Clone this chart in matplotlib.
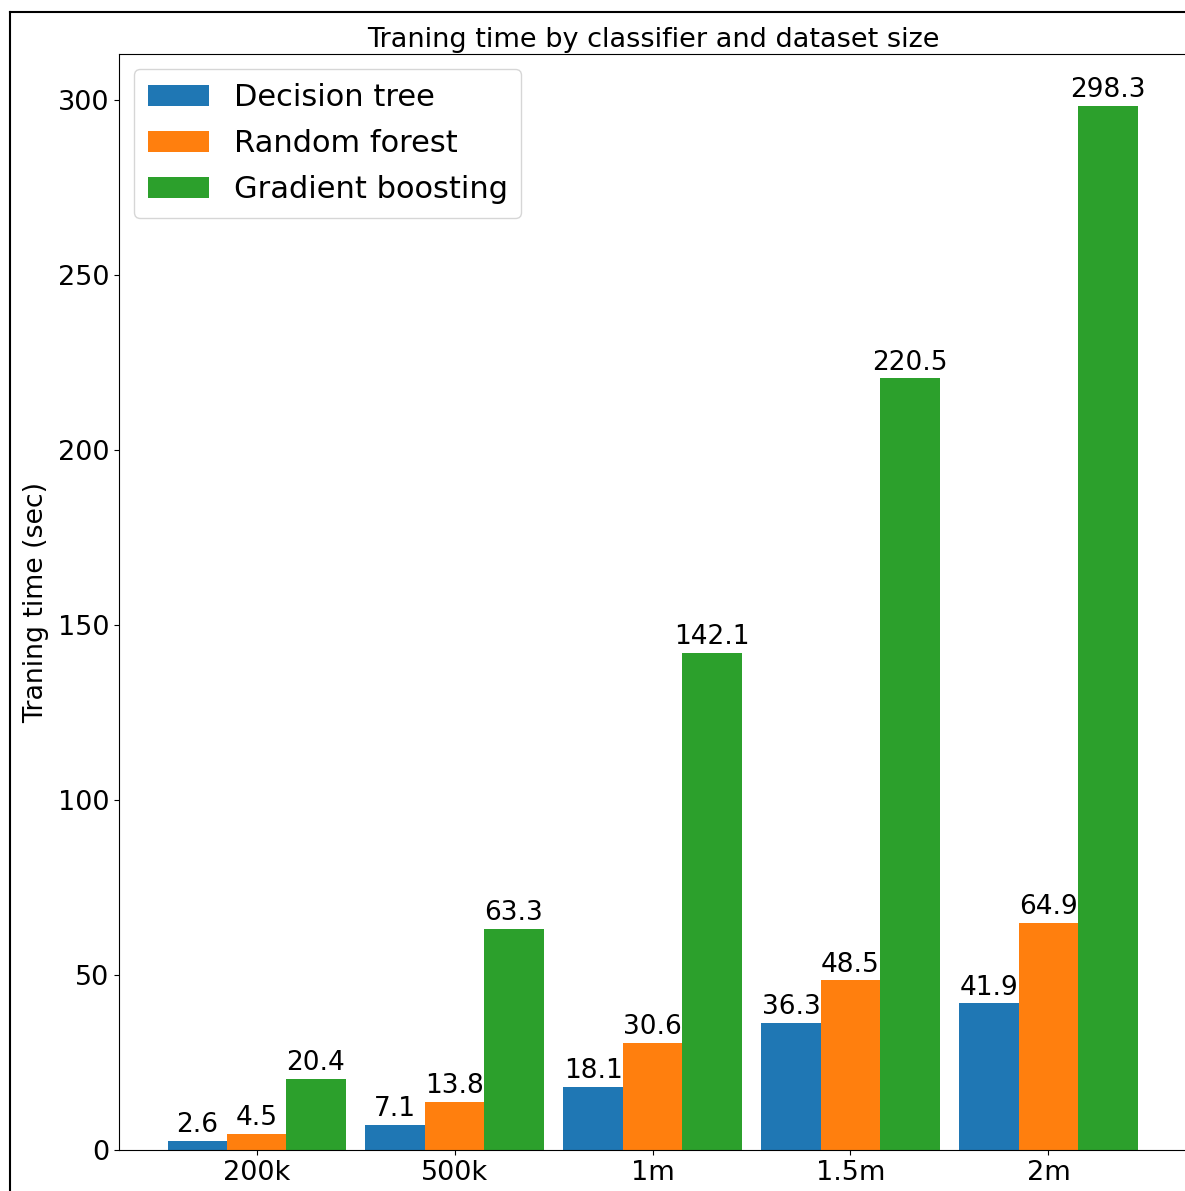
import numpy as np
import matplotlib
matplotlib.use('Agg')
import matplotlib.pyplot as plt
from matplotlib.lines import Line2D

sizes = ['200k', '500k', '1m', '1.5m', '2m']
decision_tree = [2.6, 7.1, 18.1, 36.3, 41.9]
random_forest = [4.5, 13.8, 30.6, 48.5, 64.9]
gradient_boosting = [20.4, 63.3, 142.1, 220.5, 298.3]

W, H = 1185, 1191
fig = plt.figure(figsize=(W / 100, H / 100), dpi=100)

# axes box in pixels: left 119, right just past the edge, top 54, bottom 1150
ax = fig.add_axes([119 / W, 1 - 1150 / H, (1188 - 119) / W, (1150 - 54) / H])

x = np.arange(len(sizes))
width = 0.3
b1 = ax.bar(x - width, decision_tree, width, label='Decision tree')
b2 = ax.bar(x, random_forest, width, label='Random forest')
b3 = ax.bar(x + width, gradient_boosting, width, label='Gradient boosting')

for b in (b1, b2, b3):
    ax.bar_label(b, padding=2, fontsize=19)

ax.set_xlim(-0.695, 4.705)
ax.set_xticks(x)
ax.set_xticklabels(sizes)
ax.tick_params(labelsize=19.5)
ax.set_ylabel('Traning time (sec)', fontsize=19.3, labelpad=6)
ax.set_title('Traning time by classifier and dataset size', fontsize=19.5, pad=5)
ax.legend(fontsize=22, loc='upper left', labelspacing=0.56, borderpad=0.45)

# frame around the figure (left and top edges)
fig.add_artist(Line2D([10 / W, 10 / W], [0, 1 - 12 / H], color='black', lw=1.5))
fig.add_artist(Line2D([10 / W, 1], [1 - 12 / H, 1 - 12 / H], color='black', lw=1.5))

fig.savefig('out.png', dpi=100)
